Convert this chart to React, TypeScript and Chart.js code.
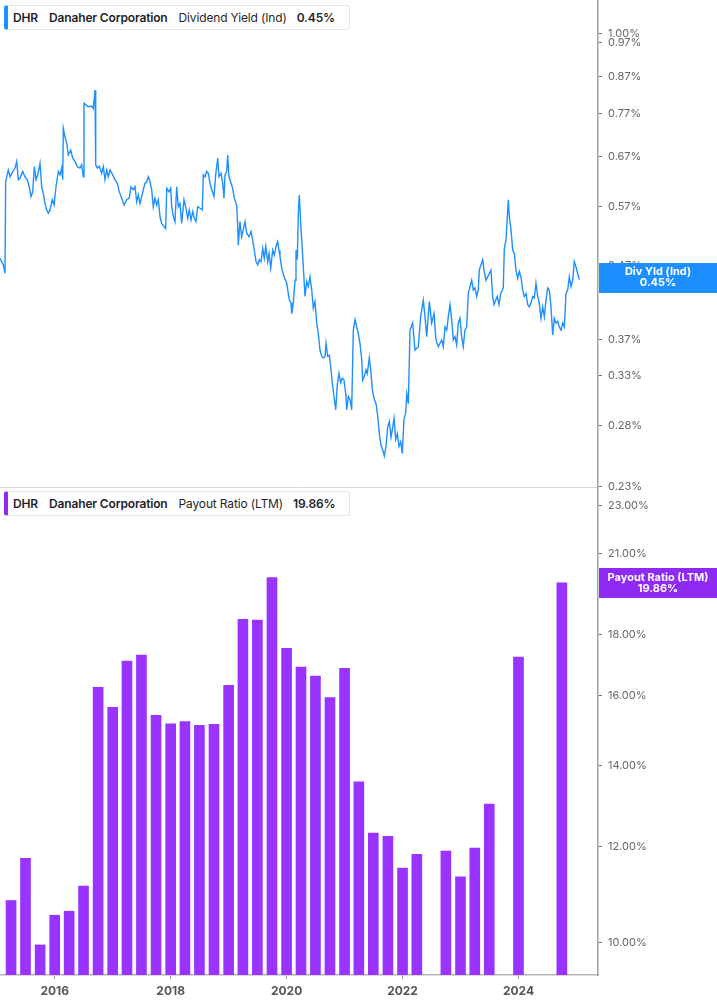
import React, { useEffect, useRef } from 'react';
import { Chart, registerables } from 'chart.js';

Chart.register(...registerables);

// ---------- text ----------
const TICKER = 'DHR';
const COMPANY = 'Danaher Corporation';
const YIELD_TITLE = 'Dividend Yield (Ind)';
const YIELD_SHORT = 'Div Yld (Ind)';
const PAYOUT_TITLE = 'Payout Ratio (LTM)';

// ---------- colours ----------
const BLUE = '#1e8fff';
const PURPLE = '#9933ff';
const PURPLE_LABEL = '#8f2af5';

// ---------- axes ----------
const X_MIN = 2015.056;
const X_MAX = 2025.372;
const yearTicks = [2016, 2018, 2020, 2022, 2024];
const yieldTicks = [0.23, 0.28, 0.33, 0.37, 0.47, 0.57, 0.67, 0.77, 0.87, 0.97, 1.0];
const YIELD_MIN = 0.2297;
const YIELD_MAX = 1.114;
const payoutTicks = [10, 12, 14, 16, 18, 21, 23];
const PAYOUT_MIN = 9.395;
const PAYOUT_MAX = 23.75;

// ---------- dividend yield (%), dates as decimal years ----------
const yieldDates = [
  2015.056, 2015.085, 2015.113, 2015.142, 2015.154, 2015.172, 2015.199, 2015.229, 2015.258, 2015.315,
  2015.344, 2015.372, 2015.401, 2015.448, 2015.487, 2015.527, 2015.561, 2015.591, 2015.620, 2015.648,
  2015.677, 2015.706, 2015.746, 2015.775, 2015.803, 2015.832, 2015.862, 2015.889, 2015.919, 2015.958,
  2015.988, 2016.022, 2016.062, 2016.091, 2016.120, 2016.138, 2016.148, 2016.177, 2016.207, 2016.234,
  2016.276, 2016.310, 2016.350, 2016.389, 2016.436, 2016.465, 2016.493, 2016.505, 2016.540, 2016.579,
  2016.638, 2016.665, 2016.695, 2016.707, 2016.735, 2016.769, 2016.810, 2016.838, 2016.867, 2016.897,
  2016.924, 2016.954, 2017.000, 2017.040, 2017.080, 2017.114, 2017.156, 2017.195, 2017.242, 2017.286,
  2017.316, 2017.355, 2017.385, 2017.414, 2017.442, 2017.471, 2017.500, 2017.528,
  2017.557, 2017.587, 2017.614, 2017.644, 2017.673, 2017.700, 2017.730, 2017.759, 2017.787, 2017.816,
  2017.845, 2017.873, 2017.914, 2017.932, 2017.971, 2018.001, 2018.018, 2018.046, 2018.075, 2018.104,
  2018.132, 2018.161, 2018.190, 2018.230, 2018.259, 2018.294, 2018.321, 2018.351, 2018.380, 2018.408,
  2018.437, 2018.467, 2018.506, 2018.546, 2018.563, 2018.593, 2018.622, 2018.650, 2018.679, 2018.708,
  2018.748, 2018.777, 2018.812, 2018.834, 2018.869, 2018.898, 2018.920, 2018.938, 2018.967, 2018.984,
  2019.006, 2019.041, 2019.070, 2019.098, 2019.139, 2019.156, 2019.167, 2019.196, 2019.225, 2019.253,
  2019.282, 2019.312, 2019.351, 2019.386, 2019.408, 2019.443, 2019.472, 2019.502, 2019.529, 2019.559,
  2019.588, 2019.615, 2019.640, 2019.674, 2019.697, 2019.726, 2019.760, 2019.788, 2019.817, 2019.846,
  2019.869,
  2019.886, 2019.916, 2019.955, 2020.002, 2020.047, 2020.076, 2020.088, 2020.116, 2020.145, 2020.162,
  2020.185, 2020.202, 2020.219, 2020.243, 2020.261, 2020.288, 2020.318, 2020.347, 2020.374, 2020.404,
  2020.433, 2020.461, 2020.490, 2020.519, 2020.547, 2020.576, 2020.605, 2020.633, 2020.663, 2020.680,
  2020.709, 2020.737, 2020.766, 2020.788, 2020.818, 2020.847, 2020.875, 2020.904, 2020.933, 2020.961,
  2020.990, 2021.020, 2021.037, 2021.064, 2021.094, 2021.123, 2021.151, 2021.180, 2021.210, 2021.237,
  2021.266, 2021.296, 2021.313, 2021.341, 2021.370, 2021.392, 2021.427, 2021.451, 2021.479, 2021.513,
  2021.543, 2021.572, 2021.600, 2021.629, 2021.658, 2021.686, 2021.715, 2021.744, 2021.772, 2021.801,
  2021.831, 2021.853, 2021.882, 2021.910, 2021.939, 2021.968, 2021.996, 2022.025, 2022.055, 2022.072,
  2022.100,
  2022.129, 2022.175, 2022.215, 2022.272, 2022.313, 2022.358, 2022.387, 2022.417, 2022.462, 2022.503,
  2022.543, 2022.577, 2022.617, 2022.646, 2022.676, 2022.703, 2022.733, 2022.762, 2022.790, 2022.819,
  2022.848, 2022.876, 2022.905, 2022.934, 2022.962, 2022.991, 2023.020, 2023.048, 2023.077, 2023.107,
  2023.134, 2023.164, 2023.193, 2023.221, 2023.250, 2023.279, 2023.307, 2023.324, 2023.353, 2023.383,
  2023.405, 2023.440, 2023.469, 2023.497, 2023.526, 2023.555, 2023.578, 2023.607, 2023.635, 2023.664,
  2023.693, 2023.721, 2023.738, 2023.756, 2023.785, 2023.808, 2023.825, 2023.842, 2023.871, 2023.901,
  2023.928, 2023.957, 2023.986, 2024.014, 2024.043, 2024.073, 2024.100, 2024.130, 2024.159, 2024.187,
  2024.216, 2024.245, 2024.273, 2024.302, 2024.332, 2024.359, 2024.389, 2024.418, 2024.446, 2024.475,
  2024.504, 2024.532, 2024.561, 2024.590, 2024.618, 2024.647, 2024.677, 2024.704, 2024.734, 2024.763,
  2024.791, 2024.820, 2024.849, 2024.877, 2024.906, 2024.935, 2024.963, 2024.992, 2025.022, 2025.049,
];

const yieldValues = [
  0.482, 0.477, 0.472, 0.459, 0.618, 0.628, 0.642, 0.628, 0.635, 0.646,
  0.660, 0.622, 0.625, 0.639, 0.628, 0.622, 0.608, 0.589, 0.598, 0.649,
  0.622, 0.632, 0.656, 0.608, 0.595, 0.576, 0.564, 0.558, 0.564, 0.583,
  0.573, 0.608, 0.639, 0.632, 0.646, 0.622, 0.735, 0.715, 0.700, 0.674,
  0.685, 0.667, 0.660, 0.649, 0.646, 0.653, 0.628, 0.797, 0.793, 0.788,
  0.790, 0.784, 0.832, 0.653, 0.646, 0.650, 0.635, 0.649, 0.622, 0.642,
  0.628, 0.642, 0.632, 0.622, 0.615, 0.598, 0.586, 0.573, 0.583, 0.586,
  0.608, 0.602, 0.608, 0.579, 0.592, 0.576, 0.589, 0.602,
  0.615, 0.618, 0.628, 0.618, 0.602, 0.570, 0.586, 0.573, 0.583, 0.552,
  0.540, 0.536, 0.531, 0.605, 0.598, 0.605, 0.570, 0.552, 0.543, 0.608,
  0.570, 0.576, 0.540, 0.583, 0.570, 0.549, 0.564, 0.546, 0.561, 0.549,
  0.543, 0.570, 0.567, 0.564, 0.632, 0.628, 0.639, 0.635, 0.615, 0.602,
  0.589, 0.632, 0.667, 0.628, 0.635, 0.615, 0.586, 0.632, 0.639, 0.674,
  0.628, 0.615, 0.605, 0.586, 0.573, 0.537, 0.503, 0.543, 0.517, 0.529,
  0.543, 0.523, 0.517, 0.526, 0.515, 0.495, 0.477, 0.472, 0.480, 0.477,
  0.498, 0.482, 0.501, 0.477, 0.490, 0.467, 0.495, 0.487, 0.501, 0.509,
  0.495,
  0.485, 0.467, 0.454, 0.445, 0.421, 0.417, 0.403, 0.417, 0.449, 0.495,
  0.480, 0.558, 0.592, 0.540, 0.512, 0.469, 0.426, 0.447, 0.440, 0.454,
  0.435, 0.410, 0.419, 0.391, 0.378, 0.358, 0.351, 0.349, 0.351, 0.366,
  0.351, 0.352, 0.336, 0.322, 0.308, 0.295, 0.320, 0.332, 0.322, 0.327,
  0.325, 0.311, 0.295, 0.308, 0.305, 0.295, 0.382, 0.395, 0.386, 0.378,
  0.366, 0.347, 0.325, 0.329, 0.336, 0.332, 0.349, 0.336, 0.315, 0.305,
  0.301, 0.289, 0.273, 0.263, 0.259, 0.254, 0.262, 0.279, 0.284, 0.270,
  0.279, 0.287, 0.268, 0.273, 0.262, 0.266, 0.256, 0.286, 0.292, 0.311,
  0.301,
  0.382, 0.391, 0.358, 0.362, 0.399, 0.421, 0.399, 0.374, 0.419, 0.391,
  0.403, 0.370, 0.362, 0.366, 0.370, 0.362, 0.386, 0.382, 0.399, 0.415,
  0.395, 0.370, 0.374, 0.364, 0.391, 0.397, 0.374, 0.362, 0.382, 0.386,
  0.430, 0.440, 0.449, 0.435, 0.438, 0.426, 0.435, 0.464, 0.472, 0.480,
  0.464, 0.449, 0.454, 0.459, 0.464, 0.426, 0.415, 0.421, 0.426, 0.415,
  0.430, 0.435, 0.438, 0.498, 0.512, 0.552, 0.583, 0.552, 0.529, 0.495,
  0.490, 0.464, 0.452, 0.462, 0.454, 0.435, 0.426, 0.430, 0.415, 0.412,
  0.417, 0.426, 0.424, 0.445, 0.426, 0.417, 0.397, 0.412, 0.399, 0.421,
  0.438, 0.435, 0.412, 0.376, 0.397, 0.391, 0.393, 0.386, 0.382, 0.391,
  0.386, 0.430, 0.435, 0.454, 0.440, 0.449, 0.477, 0.469, 0.459, 0.450,
];
const YIELD_LAST = 0.453;

// ---------- payout ratio (LTM, %) by quarter end ----------
const payoutDates = [
  '2015-03-31', '2015-06-30', '2015-09-30', '2015-12-31',
  '2016-03-31', '2016-06-30', '2016-09-30', '2016-12-31',
  '2017-03-31', '2017-06-30', '2017-09-30', '2017-12-31',
  '2018-03-31', '2018-06-30', '2018-09-30', '2018-12-31',
  '2019-03-31', '2019-06-30', '2019-09-30', '2019-12-31',
  '2020-03-31', '2020-06-30', '2020-09-30', '2020-12-31',
  '2021-03-31', '2021-06-30', '2021-09-30', '2021-12-31',
  '2022-03-31', '2022-06-30', '2022-09-30', '2022-12-31',
  '2023-03-31', '2023-06-30', '2023-09-30', '2023-12-31',
  '2024-03-31', '2024-06-30', '2024-09-30',
];
const payoutValues: (number | null)[] = [
  10.83, 11.74, 9.95, 10.53,
  10.61, 11.13, 16.27, 15.66,
  17.10, 17.30, 15.42, 15.17,
  15.24, 15.13, 15.16, 16.33,
  18.52, 18.49, 20.06, 17.52,
  16.91, 16.62, 15.95, 16.87,
  13.58, 12.32, 12.24, 11.52,
  11.83, null, 11.90, 11.33,
  11.97, 13.02, null, 17.23,
  null, null, 19.86,
];
const PAYOUT_LAST = 19.86;

// ---------- helpers ----------
function toYear(iso: string): number {
  const [y, m, d] = iso.split('-').map(Number);
  const start = Date.UTC(y, 0, 1);
  const end = Date.UTC(y + 1, 0, 1);
  const t = Date.UTC(y, m - 1, d);
  return y + (t - start) / (end - start) + 1 / 365;
}

const FONT = 'Inter, "Liberation Sans", Arial, sans-serif';

function lastValuePlugin(id: string, value: number, title: string, text: string, color: string) {
  return {
    id,
    afterDraw(chart: any) {
      const { ctx, chartArea } = chart;
      const y = chart.scales.y.getPixelForValue(value);
      const h = 30;
      const left = chartArea.right + 1;
      ctx.save();
      ctx.fillStyle = color;
      ctx.fillRect(left, Math.round(y - h / 2), chart.width - left, h);
      ctx.fillStyle = '#ffffff';
      ctx.font = `700 11px ${FONT}`;
      ctx.textAlign = 'center';
      ctx.textBaseline = 'middle';
      const cx = (left + chart.width) / 2;
      ctx.fillText(title, cx, y - 5.5);
      ctx.fillText(text, cx, y + 5.5);
      ctx.restore();
    },
  };
}

function rightAxis(min: number, max: number, ticks: number[]) {
  return {
    type: 'logarithmic',
    position: 'right',
    min,
    max,
    afterBuildTicks: (s: any) => {
      s.ticks = ticks.map((v) => ({ value: v }));
    },
    afterFit: (s: any) => {
      s.width = 119;
      s.paddingTop = 0;
      s.paddingBottom = 0;
    },
    ticks: {
      autoSkip: false,
      padding: 6,
      color: '#666666',
      font: { family: FONT, size: 11 },
      callback: (v: any) => Number(v).toFixed(2) + '%',
    },
    grid: { drawOnChartArea: false, drawTicks: true, tickLength: 4, tickColor: '#777777', tickWidth: 1 },
    border: { display: true, color: '#a0a0a0', width: 1.5 },
  };
}

function Header({ top, color, label, value }: { top: number; color: string; label: string; value: string }) {
  const bold: React.CSSProperties = { fontWeight: 600, marginRight: 11 };
  return (
    <div
      style={{
        position: 'absolute',
        left: 4,
        top,
        height: 25,
        boxSizing: 'border-box',
        display: 'flex',
        alignItems: 'center',
        padding: '0 14px 0 5px',
        background: '#ffffff',
        border: '1px solid #e6e6e6',
        borderLeft: `4px solid ${color}`,
        borderRadius: 3,
        fontFamily: FONT,
        fontSize: 12,
        letterSpacing: '-0.15px',
        color: '#1f1f2a',
        whiteSpace: 'nowrap',
      }}
    >
      <span style={bold}>{TICKER}</span>
      <span style={bold}>{COMPANY}</span>
      <span style={{ fontWeight: 400, marginRight: 10 }}>{label}</span>
      <span style={{ fontWeight: 600 }}>{value}</span>
    </div>
  );
}

export default function App() {
  const topRef = useRef<HTMLCanvasElement>(null);
  const bottomRef = useRef<HTMLCanvasElement>(null);

  useEffect(() => {
    const n = Math.min(yieldDates.length, yieldValues.length);
    const linePoints = [];
    for (let i = 0; i < n; i++) linePoints.push({ x: yieldDates[i], y: yieldValues[i] });

    const top = new Chart(topRef.current as HTMLCanvasElement, {
      type: 'line',
      data: {
        datasets: [
          {
            data: linePoints,
            borderColor: BLUE,
            borderWidth: 1.4,
            pointRadius: 0,
            tension: 0,
            fill: false,
          },
        ],
      },
      options: {
        responsive: false,
        animation: false,
        maintainAspectRatio: false,
        layout: { padding: 0 },
        plugins: { legend: { display: false }, tooltip: { enabled: false } },
        scales: {
          x: {
            type: 'linear',
            min: X_MIN,
            max: X_MAX,
            ticks: { display: false },
            grid: { display: true, drawOnChartArea: false, drawTicks: false },
            border: { display: true, color: '#d8d8d8', width: 1 },
            afterFit: (s: any) => {
              s.height = 9;
              s.paddingLeft = 0;
              s.paddingRight = 0;
            },
          },
          y: rightAxis(YIELD_MIN, YIELD_MAX, yieldTicks),
        },
      } as any,
      plugins: [lastValuePlugin('yieldLast', YIELD_LAST, YIELD_SHORT, YIELD_LAST.toFixed(2) + '%', BLUE)],
    });

    const barPoints = payoutDates.map((d, i) => ({ x: toYear(d), y: payoutValues[i] }));

    const bottom = new Chart(bottomRef.current as HTMLCanvasElement, {
      type: 'bar',
      data: {
        datasets: [
          {
            data: barPoints as any,
            backgroundColor: PURPLE,
            borderWidth: 0,
            barThickness: 10,
          },
        ],
      },
      options: {
        responsive: false,
        animation: false,
        maintainAspectRatio: false,
        layout: { padding: { top: 1 } },
        plugins: { legend: { display: false }, tooltip: { enabled: false } },
        scales: {
          x: {
            type: 'linear',
            min: X_MIN,
            max: X_MAX,
            offset: false,
            afterBuildTicks: (s: any) => {
              s.ticks = yearTicks.map((v) => ({ value: v }));
            },
            afterFit: (s: any) => {
              s.height = 30;
              s.paddingLeft = 0;
              s.paddingRight = 0;
            },
            ticks: {
              autoSkip: false,
              maxRotation: 0,
              padding: 5,
              color: '#555555',
              font: { family: FONT, size: 12, weight: 'bold' },
              callback: (v: any) => String(v),
            },
            grid: { offset: false, drawOnChartArea: false, tickLength: 4, tickColor: '#999999' },
            border: { display: true, color: '#b4b4b4', width: 1.5 },
          },
          y: rightAxis(PAYOUT_MIN, PAYOUT_MAX, payoutTicks),
        },
      } as any,
      plugins: [lastValuePlugin('payoutLast', PAYOUT_LAST, PAYOUT_TITLE, PAYOUT_LAST.toFixed(2) + '%', PURPLE_LABEL)],
    });

    return () => {
      top.destroy();
      bottom.destroy();
    };
  }, []);

  return (
    <div style={{ position: 'absolute', left: 0, top: 0, width: 717, height: 1005, background: '#ffffff', overflow: 'hidden' }}>
      <canvas ref={bottomRef} width={717} height={517} style={{ position: 'absolute', left: 0, top: 488, width: 717, height: 517 }} />
      <canvas ref={topRef} width={717} height={496} style={{ position: 'absolute', left: 0, top: 0, width: 717, height: 496 }} />
      <Header top={5} color={BLUE} label={YIELD_TITLE} value="0.45%" />
      <Header top={491} color={PURPLE_LABEL} label={PAYOUT_TITLE} value={PAYOUT_LAST.toFixed(2) + '%'} />
    </div>
  );
}
